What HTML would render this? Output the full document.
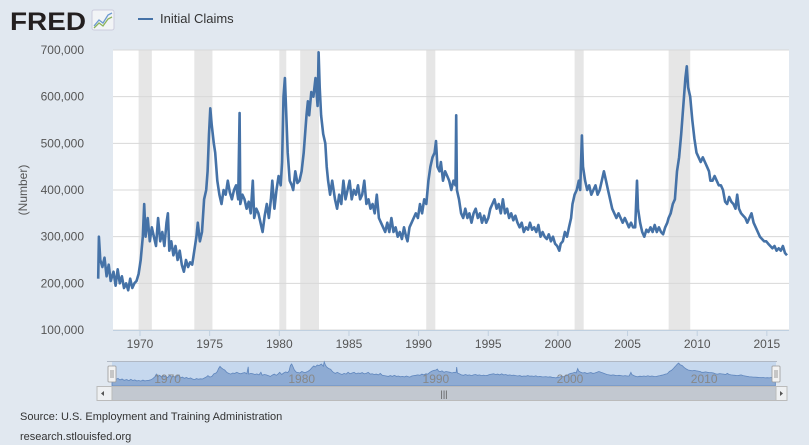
<!DOCTYPE html>
<html><head><meta charset="utf-8"><style>
body{margin:0;background:#e1e8f0;font-family:"Liberation Sans",sans-serif;}
#wrap{position:relative;width:809px;height:445px;overflow:hidden;background:#e1e8f0;}
</style></head><body>
<div id="wrap">
<svg id="svg" width="809" height="445" xmlns="http://www.w3.org/2000/svg">
  <g>
    <text x="10" y="30" font-size="25" font-weight="bold" fill="#231f20" font-family="Liberation Sans, sans-serif" textLength="76" lengthAdjust="spacingAndGlyphs">FRED</text>
    <rect x="92" y="10" width="22" height="20" rx="2" fill="#f2f4f6" stroke="#ccd"/>
    <polyline points="94,26 99,20 103,23 108,15 112,13" fill="none" stroke="#6d9ad0" stroke-width="1.3"/>
    <polyline points="94,28 99,23 103,26 108,19 112,17" fill="none" stroke="#8cb35a" stroke-width="1.3"/>
  </g>
  <g>
    <line x1="138" y1="19" x2="153" y2="19" stroke="#4572a7" stroke-width="2"/>
    <text x="160" y="23" font-size="13" fill="#333">Initial Claims</text>
  </g>
  <rect x="113" y="50" width="676" height="280" fill="#ffffff"/>
  <g id="rec"></g>
  <g id="grid"></g>
  <g id="xaxis"></g>
  <g id="series"></g>
  <g id="nav"></g>
  <text x="27" y="190" font-size="12" fill="#555" transform="rotate(-90 27 190)" text-anchor="middle">(Number)</text>
  <text x="20" y="420" font-size="11" fill="#333">Source: U.S. Employment and Training Administration</text>
  <text x="20" y="440" font-size="11" fill="#333">research.stlouisfed.org</text>
</svg>
</div>
<script>
const yTicks=[100000,200000,300000,400000,500000,600000,700000];
const xTicks=[1970,1975,1980,1985,1990,1995,2000,2005,2010,2015];
const navTicks=[1970,1980,1990,2000,2010];
const recStart=[1969.9,1973.9,1980.0,1981.5,1990.55,2001.2,2007.95];
const recEnd=[1970.85,1975.2,1980.5,1982.85,1991.2,2001.85,2009.5];
const dates=[1967.0,1967.05,1967.15,1967.3,1967.45,1967.6,1967.75,1967.9,1968.1,1968.25,1968.4,1968.55,1968.7,1968.85,1969.0,1969.15,1969.3,1969.45,1969.6,1969.75,1969.9,1970.05,1970.2,1970.3,1970.4,1970.55,1970.7,1970.85,1971.0,1971.15,1971.3,1971.45,1971.6,1971.75,1971.9,1972.0,1972.1,1972.25,1972.4,1972.55,1972.7,1972.85,1973.0,1973.15,1973.3,1973.45,1973.6,1973.75,1973.9,1974.05,1974.15,1974.3,1974.45,1974.6,1974.75,1974.85,1974.95,1975.05,1975.15,1975.3,1975.4,1975.55,1975.7,1975.85,1976.0,1976.15,1976.3,1976.45,1976.6,1976.75,1976.9,1977.05,1977.15,1977.2,1977.35,1977.5,1977.65,1977.8,1977.95,1978.1,1978.2,1978.35,1978.5,1978.65,1978.8,1978.95,1979.1,1979.25,1979.4,1979.5,1979.65,1979.8,1979.95,1980.1,1980.2,1980.3,1980.4,1980.5,1980.6,1980.75,1980.9,1981.0,1981.15,1981.3,1981.45,1981.6,1981.75,1981.85,1981.95,1982.05,1982.15,1982.3,1982.45,1982.6,1982.75,1982.82,1982.9,1983.0,1983.15,1983.3,1983.4,1983.5,1983.65,1983.8,1984.0,1984.15,1984.3,1984.45,1984.6,1984.75,1984.9,1985.05,1985.2,1985.35,1985.5,1985.65,1985.8,1985.95,1986.1,1986.25,1986.4,1986.55,1986.7,1986.85,1987.0,1987.15,1987.3,1987.45,1987.6,1987.75,1987.9,1988.05,1988.2,1988.35,1988.5,1988.65,1988.8,1988.95,1989.1,1989.2,1989.35,1989.5,1989.65,1989.8,1989.95,1990.1,1990.25,1990.4,1990.55,1990.7,1990.85,1991.0,1991.15,1991.25,1991.35,1991.5,1991.6,1991.75,1991.9,1992.05,1992.2,1992.35,1992.5,1992.65,1992.7,1992.75,1992.9,1993.05,1993.2,1993.35,1993.5,1993.65,1993.8,1993.95,1994.1,1994.25,1994.4,1994.55,1994.7,1994.85,1995.0,1995.15,1995.3,1995.45,1995.6,1995.75,1995.9,1996.05,1996.2,1996.35,1996.5,1996.65,1996.8,1996.95,1997.1,1997.25,1997.4,1997.55,1997.7,1997.85,1998.0,1998.15,1998.3,1998.45,1998.6,1998.75,1998.9,1999.05,1999.2,1999.35,1999.5,1999.65,1999.8,1999.95,2000.1,2000.2,2000.35,2000.5,2000.65,2000.8,2000.95,2001.05,2001.2,2001.35,2001.5,2001.6,2001.72,2001.8,2001.95,2002.1,2002.25,2002.4,2002.55,2002.7,2002.85,2003.0,2003.15,2003.3,2003.45,2003.6,2003.75,2003.9,2004.05,2004.2,2004.35,2004.5,2004.65,2004.8,2004.95,2005.1,2005.25,2005.4,2005.55,2005.68,2005.75,2005.9,2006.05,2006.2,2006.35,2006.5,2006.65,2006.8,2006.95,2007.1,2007.25,2007.4,2007.55,2007.7,2007.85,2007.95,2008.1,2008.25,2008.4,2008.55,2008.7,2008.85,2008.95,2009.05,2009.15,2009.25,2009.35,2009.5,2009.65,2009.8,2009.95,2010.1,2010.25,2010.4,2010.55,2010.7,2010.85,2010.95,2011.1,2011.25,2011.4,2011.55,2011.7,2011.85,2012.0,2012.15,2012.3,2012.45,2012.6,2012.75,2012.87,2013.0,2013.15,2013.3,2013.45,2013.6,2013.75,2013.9,2014.05,2014.2,2014.35,2014.5,2014.65,2014.8,2014.95,2015.1,2015.25,2015.4,2015.55,2015.7,2015.85,2016.0,2016.15,2016.3,2016.45];
const claims=[210,300,250,235,255,215,240,205,225,195,230,200,215,190,200,185,210,190,200,205,220,250,300,370,300,340,290,320,300,280,340,290,310,280,330,350,270,290,260,280,250,270,240,225,250,235,245,240,270,300,330,290,310,380,400,440,520,575,540,500,480,420,390,370,400,390,420,395,380,400,410,380,565,370,390,380,360,375,350,420,340,360,350,330,310,345,370,340,380,420,360,400,430,410,460,600,640,560,480,420,410,400,440,415,420,440,480,520,560,590,560,610,600,640,580,695,620,560,520,500,450,420,390,420,380,360,390,370,420,380,400,420,380,400,390,410,380,390,420,370,380,360,370,350,390,340,330,320,310,330,310,340,310,320,300,310,295,320,300,290,320,330,340,350,340,370,350,380,370,420,450,470,480,505,450,440,460,420,440,430,420,400,420,410,560,400,380,350,340,360,340,350,330,350,360,340,350,330,345,330,340,360,370,380,360,370,350,380,350,360,340,350,335,345,330,320,330,310,320,315,330,315,320,310,325,300,310,300,295,305,290,300,285,280,270,285,290,310,300,320,340,370,390,400,420,400,517,450,420,400,410,390,400,410,390,400,420,440,420,400,380,360,350,340,350,340,330,340,330,320,330,320,320,420,360,330,310,300,315,310,320,310,325,310,320,310,305,320,330,340,350,370,380,440,470,520,560,600,640,665,620,600,550,510,480,470,460,470,460,450,440,420,420,430,420,410,410,400,375,370,385,375,370,360,390,360,350,345,340,330,340,350,330,320,310,300,295,290,290,285,280,275,280,270,275,270,280,265,260];

const NS='http://www.w3.org/2000/svg';
const X0=113,X1=789,Y0=330,Y1=50;
const xScale=t=>140+(t-1970)*13.93;
const yScale=v=>Y0-(v-100000)/600000*(Y0-Y1);
const nx=t=>112+(t-1967)*(664/49.5);
const ny=v=>388-v*0.0000375;
function mk(tag,attrs,parent){const e=document.createElementNS(NS,tag);for(const k in attrs)e.setAttribute(k,attrs[k]);parent.appendChild(e);return e;}

const rec=document.getElementById('rec');
recStart.forEach((s,i)=>{
  const r=mk('rect',{x:xScale(s),y:Y1,width:xScale(recEnd[i])-xScale(s),height:Y0-Y1,fill:'#e6e6e6'},rec);
  
  
});
const grid=document.getElementById('grid');
yTicks.forEach(v=>{
  const y=yScale(v);
  const l=mk('line',{x1:X0,x2:X1,y1:y,y2:y,stroke:'#d8d8d8','stroke-width':1},grid);
  
  
  const t=mk('text',{x:84,y:y+4,'text-anchor':'end','font-size':12,fill:'#555'},grid);
  t.textContent=v.toLocaleString('en-US');
  
  
});
const xa=document.getElementById('xaxis');
const ax=mk('line',{x1:X0,x2:X1,y1:Y0+0.5,y2:Y0+0.5,stroke:'#c0d0e0','stroke-width':1},xa);


xTicks.forEach(t=>{
  const x=xScale(t);
  mk('line',{x1:x,x2:x,y1:Y0,y2:Y0+6,stroke:'#c0d0e0'},xa);
  const tx=mk('text',{x:x,y:Y0+18,'text-anchor':'middle','font-size':12,fill:'#555'},xa);
  tx.textContent=t;
  
  
});
const ser=document.getElementById('series');
const pts=dates.map((d,i)=>xScale(d).toFixed(1)+','+yScale(claims[i]*1000).toFixed(1)).join(' ');
const pl=mk('polyline',{points:pts,fill:'none',stroke:'#4572a7','stroke-width':2.6,'stroke-linejoin':'round'},ser);



const nav=document.getElementById('nav');
const nl=mk('line',{x1:107,x2:777,y1:361.5,y2:361.5,stroke:'#b0b8c4'},nav);


const nb=mk('rect',{x:112,y:362,width:664,height:24,fill:'#c6d8ee'},nav);


let ap='M'+nx(dates[0])+',386 '+dates.map((d,i)=>'L'+nx(d).toFixed(1)+','+ny(claims[i]*1000).toFixed(1)).join(' ')+' L'+nx(dates[dates.length-1])+',386 Z';
const na=mk('path',{d:ap,fill:'#8eabd3',stroke:'#5f86bd','stroke-width':0.8},nav);


navTicks.forEach(t=>{
  const tx=mk('text',{x:nx(t)+2,y:383,'font-size':12,fill:'#888'},nav);
  tx.textContent=t;
  
  
});
[112,776].forEach(x=>{
  const h=mk('rect',{x:x-4,y:366,width:8,height:16,fill:'#f2f2f2',stroke:'#999','stroke-width':0.8,rx:1},nav);
  
  
  mk('line',{x1:x-1,x2:x-1,y1:370,y2:378,stroke:'#999'},nav);
  mk('line',{x1:x+1,x2:x+1,y1:370,y2:378,stroke:'#999'},nav);
});
const sb=mk('rect',{x:97,y:386.5,width:690,height:14,fill:'#eef0f2',stroke:'#bbb'},nav);


const th=mk('rect',{x:112,y:386.5,width:664,height:14,fill:'#c2c8d0',stroke:'#bbb'},nav);


const g=mk('text',{x:444,y:397,'text-anchor':'middle','font-size':9,fill:'#555'},nav);
g.textContent='|||';
const la=mk('path',{d:'M104,391 L101,393.5 L104,396 Z',fill:'#555'},nav);


const ra=mk('path',{d:'M780,391 L783,393.5 L780,396 Z',fill:'#555'},nav);


</script>
</body></html>
